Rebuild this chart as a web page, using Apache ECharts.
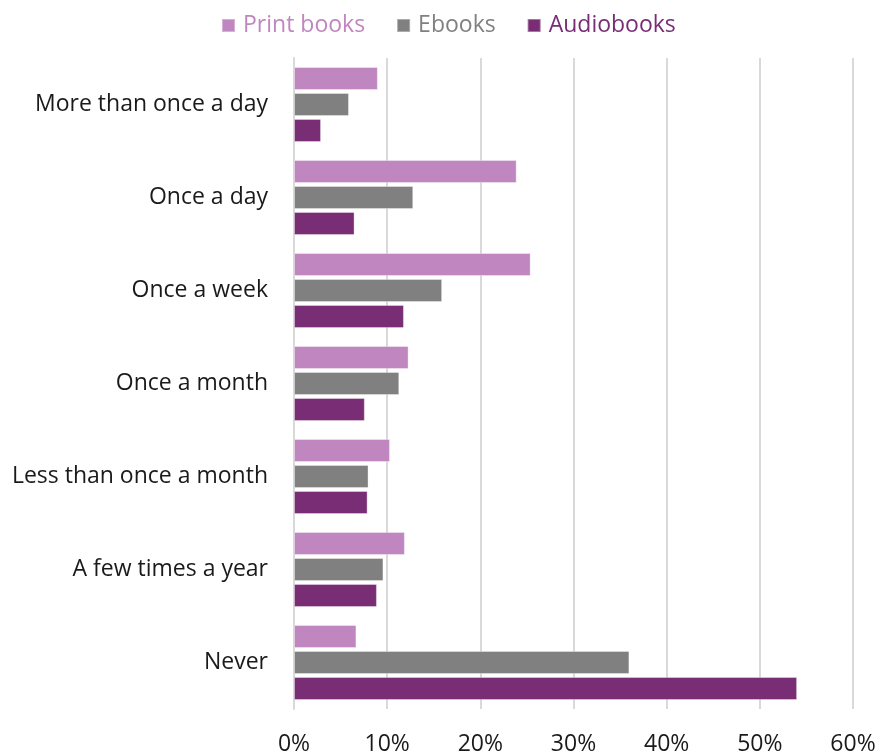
<!DOCTYPE html>
<html>
<head>
<meta charset="utf-8">
<script src="https://cdn.jsdelivr.net/npm/echarts@6/dist/echarts.min.js"></script>
<style>
  html, body { margin: 0; padding: 0; background: #fff; }
  #chart { width: 878px; height: 751px; }
</style>
</head>
<body>
<div id="chart"></div>
<script>
// How often people read each book format (share of respondents, %)
const categories = [
  'More than once a day',
  'Once a day',
  'Once a week',
  'Once a month',
  'Less than once a month',
  'A few times a year',
  'Never'
];
const printBooks = [9.0, 23.9, 25.4, 12.3, 10.3, 11.9, 6.7];
const ebooks     = [5.9, 12.8, 15.9, 11.3, 8.0, 9.6, 36.0];
const audiobooks = [2.9, 6.5, 11.8, 7.6, 7.9, 8.9, 54.0];

const xTicks = [0, 10, 20, 30, 40, 50, 60];

const colors = {
  print: '#C086C0',
  ebook: '#808080',
  audio: '#782D75'
};

const FONT = '"Open Sans", Lato, sans-serif';
const FONT_SIZE = 23;

function barSeries(name, data, color) {
  return {
    name: name,
    type: 'bar',
    data: data,
    barWidth: 23,
    barGap: '13%',
    itemStyle: {
      color: color,
      borderColor: 'rgba(255,255,255,0.35)',
      borderWidth: 1
    },
    emphasis: { disabled: true }
  };
}

const chart = echarts.init(document.getElementById('chart'), null, { renderer: 'canvas' });

chart.setOption({
  animation: false,
  backgroundColor: '#ffffff',
  legend: {
    top: 9,
    left: 216,
    itemWidth: 13,
    itemHeight: 13,
    itemGap: 31,
    icon: 'rect',
    textStyle: { fontFamily: FONT, fontSize: FONT_SIZE, padding: [0, 0, 0, 3] },
    data: [
      { name: 'Print books', textStyle: { color: colors.print } },
      { name: 'Ebooks', textStyle: { color: colors.ebook } },
      { name: 'Audiobooks', textStyle: { color: colors.audio } }
    ]
  },
  grid: {
    left: 294,
    right: 25,
    top: 58,
    bottom: 42,
    containLabel: false,
    outerBoundsMode: 'none'
  },
  xAxis: {
    type: 'value',
    min: xTicks[0],
    max: xTicks[xTicks.length - 1],
    interval: 10,
    axisLine: { show: false },
    axisTick: { show: false },
    splitLine: { show: true, lineStyle: { color: '#d9d9d9', width: 2 } },
    axisLabel: {
      formatter: v => v + '%',
      fontFamily: FONT,
      fontSize: FONT_SIZE,
      color: '#1a1a1a',
      margin: 24
    }
  },
  yAxis: {
    type: 'category',
    data: categories,
    inverse: true,
    axisLine: { show: true, lineStyle: { color: '#d9d9d9', width: 2 } },
    axisTick: { show: false },
    axisLabel: {
      fontFamily: FONT,
      fontSize: FONT_SIZE,
      color: '#1a1a1a',
      margin: 26
    }
  },
  series: [
    barSeries('Print books', printBooks, colors.print),
    barSeries('Ebooks', ebooks, colors.ebook),
    barSeries('Audiobooks', audiobooks, colors.audio)
  ]
});
</script>
</body>
</html>
